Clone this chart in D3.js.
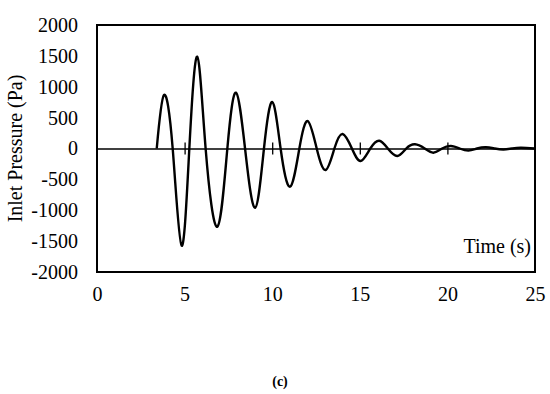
<!DOCTYPE html>
<meta http-equiv="Content-type" content="text/html; charset=UTF-8"/>
<style>
  body { margin: 0; background: #fff; }
  * { font-family: 'Liberation Serif', 'Times New Roman', serif; }
</style>
<svg width="550" height="394"></svg>
<script src="https://d3js.org/d3.v7.min.js"></script>
<script>
// values: extrema and zero crossings of the trace
var time = [3.41, 3.82, 4.32, 4.83, 5.27, 5.72, 6.2, 6.87, 7.44, 7.93, 8.45, 9.02, 9.53,
  10.01, 10.48, 11.02, 11.55, 12.03, 12.54, 13.05, 13.55, 14.02, 14.55, 15.05, 15.6,
  16.11, 16.6, 17.14, 17.65, 18.15, 18.7, 19.2, 19.7, 20.2, 20.7, 21.2, 21.7, 22.2,
  22.7, 23.2, 23.7, 24.2, 25];
var pressure = [0, 866, 0, -1574, 0, 1487, 0, -1266, 0, 904, 0, -959, 0,
  753, 0, -619, 0, 445, 0, -348, 0, 235, 0, -202, 0,
  126, 0, -121, 0, 68, 0, -68, 0, 40, 0, -35, 0, 20,
  0, -15, 0, 12, 0];
var xTicks = [0, 5, 10, 15, 20, 25];
var yTicks = [-2000, -1500, -1000, -500, 0, 500, 1000, 1500, 2000];
var crossTicks = [5, 10, 15, 20];

var svg = d3.select("svg"),
    margin = {top: 25, right: 15, bottom: 122, left: 97},
    width = +svg.attr("width") - margin.left - margin.right,
    height = +svg.attr("height") - margin.top - margin.bottom,
    g = svg.append("g").attr("transform", "translate(" + margin.left + "," + margin.top + ")");

var x = d3.scaleLinear().domain([0, 25]).range([0, width]);
var y = d3.scaleLinear().domain([-2000, 2000]).range([height, 0]);

var data = time.map(function(t, i) { return {t: t, p: pressure[i]}; });

// y labels (plain hyphen minus, like the original)
g.append("g")
    .call(d3.axisLeft(y).tickValues(yTicks).tickSize(0).tickPadding(19)
      .tickFormat(function(d) { return String(d); }))
    .call(function(a) { a.select(".domain").remove(); })
    .selectAll("text")
    .style("font-size", "20px")
    .attr("fill", "#000");

// x labels
g.append("g")
    .attr("transform", "translate(0," + height + ")")
    .call(d3.axisBottom(x).tickValues(xTicks).tickSize(0).tickPadding(15))
    .call(function(a) { a.select(".domain").remove(); })
    .selectAll("text")
    .style("font-size", "20px")
    .attr("fill", "#000");

// zero axis with cross ticks
g.append("g")
    .attr("transform", "translate(0," + y(0) + ")")
    .call(d3.axisBottom(x).tickValues(crossTicks).tickSize(6).tickSizeOuter(0).tickFormat(""))
    .call(function(a) {
      a.select(".domain").attr("stroke", "#000").attr("stroke-width", 1.5);
      a.selectAll(".tick line").attr("y1", -6).attr("stroke-width", 1.3);
    });

g.append("path")
    .datum(data)
    .attr("fill", "none")
    .attr("stroke", "#000")
    .attr("stroke-width", 2.4)
    .attr("d", d3.line()
      .curve(d3.curveNatural)
      .x(function(d) { return x(d.t); })
      .y(function(d) { return y(d.p); }));

// plot box
g.append("rect")
    .attr("width", width)
    .attr("height", height)
    .attr("fill", "none")
    .attr("stroke", "#000")
    .attr("stroke-width", 2);

g.append("text")
    .attr("x", width - 4)
    .attr("y", 228)
    .attr("text-anchor", "end")
    .style("font-size", "20px")
    .text("Time (s)");

svg.append("text")
    .attr("transform", "translate(22," + (margin.top + y(0)) + ") rotate(-90)")
    .attr("text-anchor", "middle")
    .style("font-size", "20px")
    .text("Inlet Pressure (Pa)");

svg.append("text")
    .attr("x", 280)
    .attr("y", 386)
    .attr("text-anchor", "middle")
    .style("font-size", "14px")
    .style("font-weight", "bold")
    .text("(c)");
</script>
